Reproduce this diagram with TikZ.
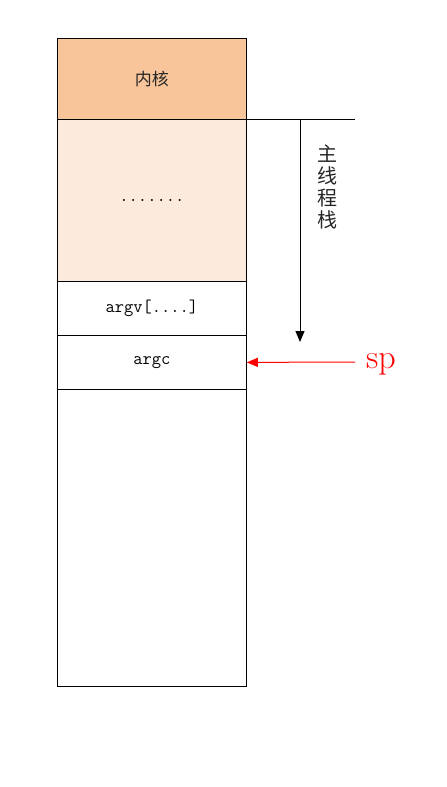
\documentclass[tikz,border=0pt]{standalone}
\usepackage{fontspec}
\newfontfamily\cjk{Noto Sans CJK SC}[Scale=1]
\usetikzlibrary{arrows.meta}
\definecolor{kern}{HTML}{F8C59A}
\definecolor{light}{HTML}{FCEADC}
\begin{document}
\begin{tikzpicture}[x=1pt,y=-1pt,
  cell/.style={draw=black,line width=0.8pt,minimum width=189pt,inner sep=0pt,anchor=north west},
  lbl/.style={font=\ttfamily\fontsize{18}{20}\selectfont},
  arr/.style={-{Triangle[length=11pt,width=9pt]},line width=1pt}]
\useasboundingbox (0,0) rectangle (447,787);
\node[cell,fill=kern,minimum height=81pt] (k) at (57,38) {};
\node[font=\cjk\fontsize{17}{19}\selectfont\color{black!85}] at (k.center) {内核};
\node[cell,fill=light,minimum height=162pt] (d) at (57,119) {};
\node[lbl] at (d.center) {.......};
\node[cell,minimum height=54pt] (av) at (57,281) {};
\node[lbl] at (av.center) {argv[....]};
\node[cell,minimum height=54pt] (ac) at (57,335) {};
\node[lbl] at (ac.center) {argc};
\node[cell,minimum height=297pt] (rest) at (57,389) {};
\coordinate (hl) at (355,119);
\draw[line width=0.8pt] (d.north east) -- (hl);
\coordinate (vt) at (300,119);
\coordinate (vb) at (300,342);
\draw[arr] (vt) -- (vb);
\node[font=\cjk\fontsize{20}{22}\selectfont\color{black!85},align=center,inner sep=0pt] (mt) at (327,187) {主\\线\\程\\栈};
\node[text=red,font=\fontsize{34}{36}\selectfont,anchor=base west,inner sep=0pt] (sp) at (366,368) {sp};
\coordinate (spl) at (355,362);
\draw[arr,red] (spl) -- (ac.east);
\end{tikzpicture}
\end{document}
